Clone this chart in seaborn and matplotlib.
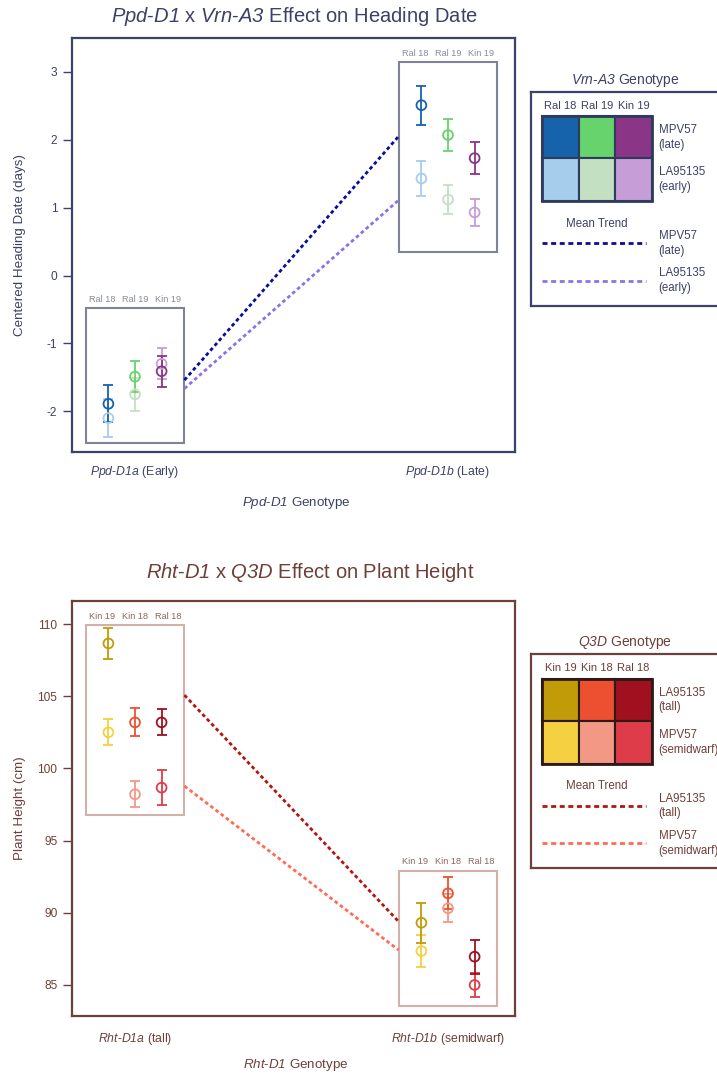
import numpy as np
import pandas as pd
import matplotlib
matplotlib.use("Agg")
import matplotlib.pyplot as plt
import seaborn as sns
from matplotlib.patches import Rectangle

sns.set_style("white")
plt.rcParams['font.family'] = ['Liberation Sans', 'DejaVu Sans']
plt.rcParams['mathtext.fontset'] = 'custom'
plt.rcParams['mathtext.rm'] = 'Liberation Sans:italic'
plt.rcParams['mathtext.it'] = 'Liberation Sans:italic'
plt.rcParams['mathtext.bf'] = 'Liberation Sans:bold'
plt.rcParams['axes.unicode_minus'] = False

# ---------------- Panel 1 data: heading date ----------------
hd_lines = ["Ral 18", "Ral 19", "Kin 19"]
hd_ticklabels = [r"$\mathit{Ppd}$-$\mathit{D1a}$ (Early)", r"$\mathit{Ppd}$-$\mathit{D1b}$ (Late)"]
hd_late_mean = [[-1.89, -1.49, -1.41], [2.51, 2.07, 1.73]]
hd_late_err = [[0.27, 0.23, 0.23], [0.29, 0.23, 0.24]]
hd_early_mean = [[-2.10, -1.75, -1.30], [1.43, 1.12, 0.93]]
hd_early_err = [[0.28, 0.24, 0.23], [0.26, 0.21, 0.20]]
hd_trend_late = [-1.54, 2.05]
hd_trend_early = [-1.665, 1.11]
hd_box_lo = [-2.47, 0.34]
hd_box_hi = [-0.48, 3.14]
hd_yticks = [-2, -1, 0, 1, 2, 3]

# ---------------- Panel 2 data: plant height ----------------
ph_lines = ["Kin 19", "Kin 18", "Ral 18"]
ph_ticklabels = [r"$\mathit{Rht}$-$\mathit{D1a}$ (tall)", r"$\mathit{Rht}$-$\mathit{D1b}$ (semidwarf)"]
ph_tall_mean = [[108.66, 103.19, 103.19], [89.31, 91.35, 86.96]]
ph_tall_err = [[1.06, 0.97, 0.90], [1.40, 1.10, 1.18]]
ph_semi_mean = [[102.50, 98.21, 98.67], [87.35, 90.31, 85.00]]
ph_semi_err = [[0.90, 0.89, 1.20], [1.13, 0.98, 0.82]]
ph_trend_tall = [105.08, 89.40]
ph_trend_semi = [98.78, 87.42]
ph_box_lo = [96.77, 83.55]
ph_box_hi = [109.93, 92.92]
ph_yticks = [85, 90, 95, 100, 105, 110]

# ---------------- style ----------------
W, H = 717, 1074
fig = plt.figure(figsize=(W / 100, H / 100), dpi=100)

def fx(px):
    return px / W

def fy(py):
    return 1 - py / H

OFF = 0.085
LOFF = 0.105
HALF = 0.158


def draw_panel(ax, lines, ticklabels, m_hi, e_hi, m_lo, e_lo, trend_hi, trend_lo,
               box_lo, box_hi, yticks, ylim, cols_hi, cols_lo, trend_cols,
               frame_col, text_col, box_col, glabel_col, ylabel, xlabel):
    rows = []
    for g in range(2):
        for j, ln in enumerate(lines):
            x = g + (j - 1) * OFF
            rows.append(dict(x=x, y=m_lo[g][j], e=e_lo[g][j], key=f"lo_{ln}", col=cols_lo[j], order=0))
        for j, ln in enumerate(lines):
            x = g + (j - 1) * OFF
            rows.append(dict(x=x, y=m_hi[g][j], e=e_hi[g][j], key=f"hi_{ln}", col=cols_hi[j], order=1))
    df = pd.DataFrame(rows)
    pal = dict(zip(df["key"], df["col"]))
    for _, r in df.iterrows():
        ax.errorbar(r["x"], r["y"], yerr=r["e"], fmt="none", ecolor=r["col"],
                    elinewidth=1.3, capsize=3.4, capthick=1.3, zorder=3)
    for order in [0, 1]:
        sub = df[df["order"] == order]
        sns.scatterplot(data=sub, x="x", y="y", hue="key", palette=pal, s=50,
                        linewidth=1.3, legend=False, ax=ax, zorder=4)
        coll = ax.collections[-1]
        fcs = coll.get_facecolors()
        coll.set_edgecolors(fcs)
        coll.set_facecolors("none")
    # group boxes
    for g in range(2):
        ax.add_patch(Rectangle((g - HALF, box_lo[g]), 2 * HALF, box_hi[g] - box_lo[g],
                               fill=False, ec=box_col, lw=1.5, zorder=2))
        for j, ln in enumerate(lines):
            ax.annotate(ln, xy=(g + (j - 1) * LOFF, box_hi[g]), xytext=(0, 3),
                        textcoords="offset points", ha="center", va="bottom",
                        fontsize=6.6, color=glabel_col)
    # trend lines
    ax.plot([0 + HALF, 1 - HALF], trend_hi, color=trend_cols[0], lw=2.0,
            ls=(0, (1.3, 1.05)), dash_capstyle="butt", zorder=2)
    ax.plot([0 + HALF, 1 - HALF], trend_lo, color=trend_cols[1], lw=2.0,
            ls=(0, (1.3, 1.05)), dash_capstyle="butt", zorder=2)
    ax.set_xlim(-0.2013, 1.214)
    ax.set_ylim(*ylim)
    ax.set_xticks([0, 1])
    ax.set_xticklabels(ticklabels)
    ax.set_yticks(yticks)
    ax.tick_params(axis="x", length=0, pad=9, labelsize=8.8, colors=text_col)
    ax.tick_params(axis="y", length=6.5, width=1, pad=4, labelsize=8.6, colors=text_col,
                   left=True)
    for s in ax.spines.values():
        s.set_color(frame_col)
        s.set_linewidth(1.6)
        s.set_visible(True)
    ax.set_xlabel(xlabel, fontsize=9.6, color=text_col, va="center")
    ax.set_ylabel(ylabel, fontsize=9.6, color=text_col, va="center")
    ax.grid(False)


def draw_legend(rect_px, title, title_y, headers, cols_top, cols_bot, row_labels,
                line_cols, line_labels, frame_col, text_col, cell_edge):
    x0, y0, w, h = rect_px
    lax = fig.add_axes([fx(x0), fy(y0 + h), fx(w), h / H])
    lax.set_xlim(0, w)
    lax.set_ylim(h, 0)
    lax.set_xticks([])
    lax.set_yticks([])
    for s in lax.spines.values():
        s.set_color(frame_col)
        s.set_linewidth(1.6)
    fig.text(fx(625), fy(title_y), title, ha="center", va="center", fontsize=10, color=text_col)
    cw, ch = 36.5, 42.5
    gx, gy = 11.6, 24.3
    for j, hd in enumerate(headers):
        lax.text(gx + cw * (j + 0.5), 14, hd, ha="center", va="center", fontsize=8, color=text_col)
        lax.add_patch(Rectangle((gx + cw * j, gy), cw, ch, fc=cols_top[j], ec=cell_edge, lw=1.5))
        lax.add_patch(Rectangle((gx + cw * j, gy + ch), cw, ch, fc=cols_bot[j], ec=cell_edge, lw=1.5))
    lax.add_patch(Rectangle((gx, gy), 3 * cw, 2 * ch, fill=False, ec=cell_edge, lw=2))
    lax.text(128, gy + ch * 0.5, row_labels[0], ha="left", va="center", fontsize=8.3,
             color=text_col, linespacing=1.3)
    lax.text(128, gy + ch * 1.5, row_labels[1], ha="left", va="center", fontsize=8.3,
             color=text_col, linespacing=1.3)
    lax.text(gx + cw * 1.5, 132, "Mean Trend", ha="center", va="center", fontsize=8.3, color=text_col)
    for k, ly in enumerate([151.6, 189]):
        lax.plot([gx, 115], [ly, ly], color=line_cols[k], lw=2.0,
                 ls=(0, (1.8, 1.3)), dash_capstyle="butt")
        lax.text(128, ly, line_labels[k], ha="left", va="center", fontsize=8.3,
                 color=text_col, linespacing=1.3)


# ---------- panel 1 ----------
navy_frame = "#3c4369"
navy_text = "#3d4166"
ax1 = fig.add_axes([fx(72), fy(452), fx(443), 414 / H])
draw_panel(ax1, hd_lines, hd_ticklabels, hd_late_mean, hd_late_err, hd_early_mean, hd_early_err,
           hd_trend_late, hd_trend_early, hd_box_lo, hd_box_hi, hd_yticks, (-2.6, 3.5),
           ["#1662ab", "#66d36c", "#8a3586"], ["#a6cdec", "#c3e0c3", "#c79dd8"],
           ["#0c0c9c", "#8c72e8"], navy_frame, navy_text, "#7e8399", "#858a9e",
           "Centered Heading Date (days)", r"$\mathit{Ppd}$-$\mathit{D1}$ Genotype")
ax1.yaxis.set_label_coords(-0.117, 0.5)
ax1.xaxis.set_label_coords(0.506, -0.123)
fig.text(fx(294), fy(16), r"$\mathit{Ppd}$-$\mathit{D1}$ x $\mathit{Vrn}$-$\mathit{A3}$ Effect on Heading Date",
         ha="center", va="center", fontsize=14.5, color=navy_text)
draw_legend((530.7, 91.7, 200, 214), r"$\mathit{Vrn}$-$\mathit{A3}$ Genotype", 80.7,
            hd_lines, ["#1662ab", "#66d36c", "#8a3586"], ["#a6cdec", "#c3e0c3", "#c79dd8"],
            ["MPV57\n(late)", "LA95135\n(early)"], ["#0c0c9c", "#8c72e8"],
            ["MPV57\n(late)", "LA95135\n(early)"], navy_frame, navy_text, "#2f3a5f")

# ---------- panel 2 ----------
brown_frame = "#6b4239"
brown_text = "#6e3f38"
ax2 = fig.add_axes([fx(72), fy(1016), fx(443), 415 / H])
draw_panel(ax2, ph_lines, ph_ticklabels, ph_tall_mean, ph_tall_err, ph_semi_mean, ph_semi_err,
           ph_trend_tall, ph_trend_semi, ph_box_lo, ph_box_hi, ph_yticks, (82.85, 111.6),
           ["#c29b08", "#ec5030", "#a0101e"], ["#f5d040", "#f29885", "#de3c48"],
           ["#b3150f", "#ff6b55"], brown_frame, brown_text, "#d3b1ab", "#8a6660",
           "Plant Height (cm)", r"$\mathit{Rht}$-$\mathit{D1}$ Genotype")
ax2.yaxis.set_label_coords(-0.117, 0.5)
ax2.xaxis.set_label_coords(0.506, -0.118)
ax2.tick_params(axis="x", pad=11)
fig.text(fx(310), fy(573), r"$\mathit{Rht}$-$\mathit{D1}$ x $\mathit{Q3D}$ Effect on Plant Height",
         ha="center", va="center", fontsize=14.5, color=brown_text)
draw_legend((530.7, 654.3, 200, 214), r"$\mathit{Q3D}$ Genotype", 642.7,
            ph_lines, ["#c29b08", "#ec5030", "#a0101e"], ["#f5d040", "#f29885", "#de3c48"],
            ["LA95135\n(tall)", "MPV57\n(semidwarf)"], ["#b3150f", "#ff6b55"],
            ["LA95135\n(tall)", "MPV57\n(semidwarf)"], brown_frame, brown_text, "#2b1a18")

fig.savefig("out.png", dpi=100)
